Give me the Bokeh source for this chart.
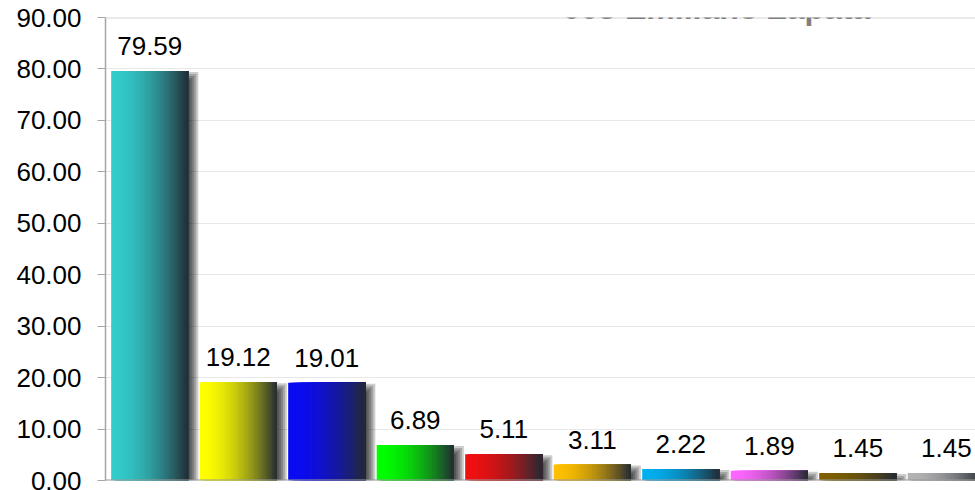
import numpy as np
from bokeh.plotting import figure
from bokeh.models import FixedTicker, NumeralTickFormatter, Span, Label, Range1d
from bokeh.embed import file_html
from bokeh.resources import INLINE
from bokeh.core.properties import value

# ---- data ----
title_text = "003 Emiliano Zapata"
values = [79.59, 19.12, 19.01, 6.89, 5.11, 3.11, 2.22, 1.89, 1.45, 1.45]
colors = ["#33CCCC", "#FFFF00", "#0A0AF5", "#00FF00", "#F01010",
          "#FFC000", "#00B0F0", "#FF66FF", "#806000", "#B4B4B4"]
y_ticks = [0, 10, 20, 30, 40, 50, 60, 70, 80, 90]
dark_end = "#232A33"

# ---- geometry ----
XMAX = 9.83
FRAME_W, FRAME_H = 870, 463
px_x = XMAX / FRAME_W
px_y = 90.0 / FRAME_H
BAR_W = 0.872

p = figure(width=975, height=490, x_range=Range1d(0, XMAX), y_range=Range1d(0, 90),
           output_backend="svg", toolbar_location=None,
           min_border_left=105, min_border_right=0, min_border_top=17, min_border_bottom=10)
p.outline_line_color = None
p.background_fill_color = "white"
p.border_fill_color = "white"

centers = [i + 0.5 for i in range(len(values))]

# ---- shadows ----
for e in (5, 3, 1, -1, -3, -5):
    l, r, t, b = [], [], [], []
    for c, v in zip(centers, values):
        right = c + BAR_W / 2
        l.append(c - BAR_W / 2 + 4 * px_x)
        r.append(right + (5 + e) * px_x)
        t.append(max(0.0, v - (6 - e) * px_y))
        b.append(0.0)
    p.quad(left=l, right=r, top=t, bottom=b, fill_color="black", fill_alpha=0.2, line_color=None)

# ---- gradient bars (overlapping strips, left to right) ----
def hex2rgb(h):
    h = h.lstrip("#")
    return np.array([int(h[i:i + 2], 16) for i in (0, 2, 4)], dtype=float)

N = 32
dark = hex2rgb(dark_end)
sl, sr, st, sc = [], [], [], []
for c, v, col in zip(centers, values, colors):
    base = hex2rgb(col)
    left = c - BAR_W / 2
    for j in range(N):
        t = (j + 0.5) / N
        f = t ** 1.8
        rgb = base + (dark - base) * f
        sl.append(left + j * BAR_W / N)
        sr.append(left + BAR_W)
        st.append(v)
        sc.append("#%02x%02x%02x" % tuple(int(round(x)) for x in rgb))
p.quad(left=sl, right=sr, top=st, bottom=[0.0] * len(sl), fill_color=sc, line_color=None)

# ---- value labels ----
p.text(x=centers, y=values, text=["%.2f" % v for v in values],
       text_align="center", text_baseline="alphabetic", y_offset=-25,
       text_font=value("Liberation Sans"), text_font_size="26px", text_color="black")

# ---- axes / grid ----
p.xaxis.visible = False
p.xgrid.visible = False
p.ygrid.ticker = FixedTicker(ticks=y_ticks)
p.ygrid.grid_line_color = "#e8e8e8"
p.yaxis.ticker = FixedTicker(ticks=y_ticks)
p.yaxis.formatter = NumeralTickFormatter(format="0.00")
p.yaxis.major_label_text_font = "Liberation Sans"
p.yaxis.major_label_text_font_size = "26px"
p.yaxis.major_label_text_color = "black"
p.yaxis.axis_line_color = "#a6a6a6"
p.yaxis.axis_line_width = 1.5
p.yaxis.major_tick_line_color = "#a6a6a6"
p.yaxis.major_tick_out = 8
p.yaxis.major_tick_in = 0
p.yaxis.minor_tick_line_color = None
p.yaxis.major_label_standoff = 16

p.add_layout(Span(location=90, dimension="width", line_color="#d6d6d6", line_width=2))
p.add_layout(Span(location=0, dimension="width", line_color="#9a9a9a", line_width=2))

# ---- title (partly above the visible area, as in the reference) ----
p.add_layout(Label(x=(716 - 105) * px_x, y=90 + 10 * px_y, text=title_text,
                   text_align="center", text_baseline="alphabetic",
                   text_font="Liberation Sans", text_font_size="32px",
                   text_font_style="bold", text_color="#7f7f7f"))

open("out.html", "w").write(file_html(p, INLINE))
